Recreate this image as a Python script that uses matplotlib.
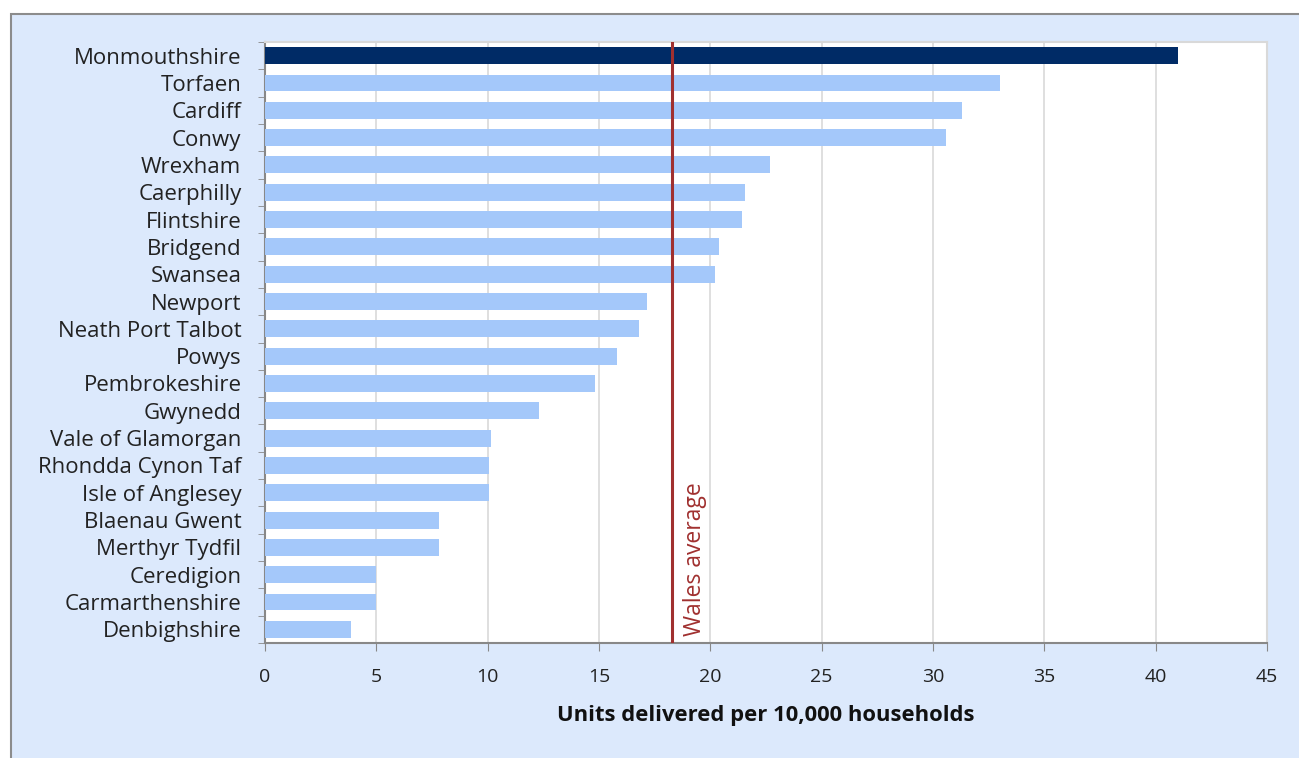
import matplotlib
matplotlib.use("Agg")
import matplotlib.pyplot as plt
from matplotlib.patches import Rectangle
import numpy as np

categories = ["Monmouthshire", "Torfaen", "Cardiff", "Conwy", "Wrexham", "Caerphilly",
              "Flintshire", "Bridgend", "Swansea", "Newport", "Neath Port Talbot", "Powys",
              "Pembrokeshire", "Gwynedd", "Vale of Glamorgan", "Rhondda Cynon Taf",
              "Isle of Anglesey", "Blaenau Gwent", "Merthyr Tydfil", "Ceredigion",
              "Carmarthenshire", "Denbighshire"]
values = [41.0, 33.0, 31.3, 30.6, 22.7, 21.55, 21.4, 20.4, 20.2, 17.15, 16.8, 15.8,
          14.8, 12.3, 10.15, 10.05, 10.05, 7.8, 7.8, 5.0, 5.0, 3.85]
highlight = "Monmouthshire"
wales_average = 18.3
x_ticks = [0, 5, 10, 15, 20, 25, 30, 35, 40, 45]
x_label = "Units delivered per 10,000 households"
avg_label = "Wales average"

plt.rcParams['font.family'] = ['Open Sans', 'DejaVu Sans']

fig = plt.figure(figsize=(12.99, 7.58), dpi=100)
fig.patch.set_facecolor("white")
bg = Rectangle((11/1299, -0.01), 1.0, 1 - 14/758 + 0.01, transform=fig.transFigure,
               facecolor="#DCE9FC", edgecolor="#8C8C8C", linewidth=1.5, zorder=-10)
fig.patches.append(bg)

ax = fig.add_axes([265/1299, 1 - 643/758, (1267-265)/1299, (643-42)/758])
ax.set_zorder(1)
ax.set_facecolor("white")

y = np.arange(len(categories))
colors = ["#002B66" if c == highlight else "#A4C8FA" for c in categories]
ax.barh(y, values, height=0.62, color=colors, zorder=3)

ax.axvline(wales_average, color="#A0302F", linewidth=2.2, zorder=4)
ax.text(wales_average + 1.0, len(categories) - 0.75, avg_label, rotation=90,
        color="#A0302F", fontsize=16.5, ha="center", va="bottom", zorder=5)

ax.set_xlim(0, 45)
ax.set_ylim(len(categories) - 0.5, -0.5)
ax.set_xticks(x_ticks)
ax.set_xticklabels([str(t) for t in x_ticks], fontsize=14, color="#222222")
ax.set_yticks(y)
ax.set_yticklabels(categories, fontsize=16, color="#222222")
ax.set_yticks(np.arange(-0.5, len(categories), 1.0), minor=True)
ax.tick_params(axis="y", which="major", length=0, pad=17)
ax.tick_params(axis="y", which="minor", length=5, color="#888888", direction="out")
ax.tick_params(axis="x", which="major", length=6, color="#888888", direction="out", pad=12)
ax.grid(axis="x", color="#D9D9D9", linewidth=1.2, zorder=0)
ax.set_axisbelow(True)
for s in ["left", "bottom"]:
    ax.spines[s].set_color("#888888")
    ax.spines[s].set_linewidth(1.5)
for s in ["top", "right"]:
    ax.spines[s].set_color("#D9D9D9")
    ax.spines[s].set_linewidth(1.5)

ax.set_xlabel(x_label, fontsize=15.8, fontweight="bold", color="#111111", labelpad=14)

fig.savefig("out.png", dpi=100)
